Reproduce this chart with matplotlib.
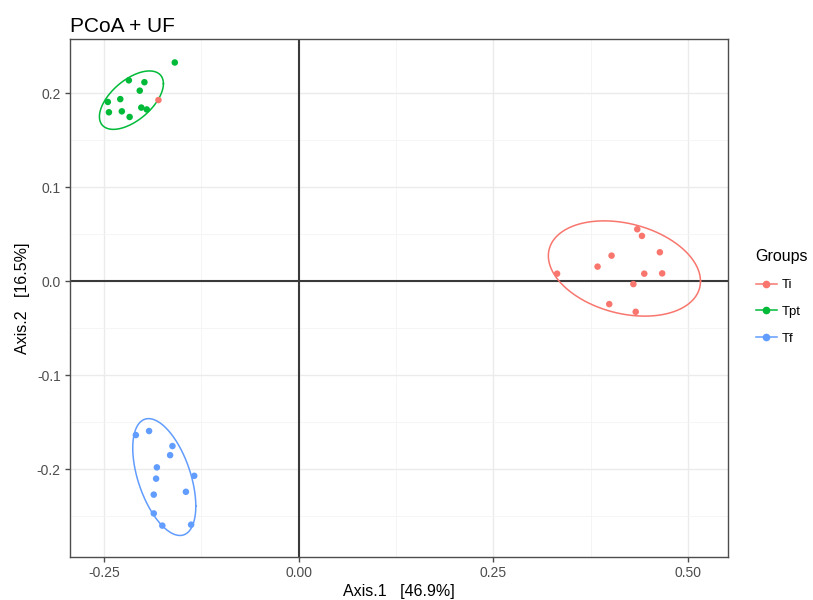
import numpy as np
import matplotlib
matplotlib.use("Agg")
import matplotlib.pyplot as plt
from matplotlib.lines import Line2D

plt.rcParams['font.family'] = ['Liberation Sans', 'DejaVu Sans']

groups = ['Ti', 'Tpt', 'Tf']
colors = ['#F8766D', '#00BA38', '#619CFF']

ti_x = [0.435, 0.441, 0.402, 0.464, 0.384, 0.332, 0.444, 0.467, 0.430, 0.399, 0.433, -0.180]
ti_y = [0.0555, 0.0484, 0.0274, 0.031, 0.0157, 0.0082, 0.0082, 0.0085, -0.0029, -0.0242, -0.0324, 0.193]

tpt_x = [-0.159, -0.218, -0.198, -0.204, -0.245, -0.229, -0.2436, -0.227, -0.217, -0.202, -0.195]
tpt_y = [0.233, 0.214, 0.212, 0.203, 0.191, 0.194, 0.180, 0.181, 0.175, 0.185, 0.183]

tf_x = [-0.209, -0.192, -0.162, -0.165, -0.182, -0.183, -0.134, -0.1447, -0.186, -0.186, -0.175, -0.138]
tf_y = [-0.1636, -0.1593, -0.1753, -0.185, -0.198, -0.210, -0.207, -0.224, -0.227, -0.247, -0.260, -0.259]

# confidence ellipses: centre, half extent in x / y, tilt phase
ell_cx = [0.4185, -0.2147, -0.1725]
ell_cy = [0.0137, 0.1929, -0.2083]
ell_rx = [0.0977, 0.0411, 0.0405]
ell_ry = [0.0507, 0.0311, 0.0622]
ell_phi = [-0.27, 0.60, -0.52]

xticks = [-0.25, 0.0, 0.25, 0.50]
xlabels = ['-0.25', '0.00', '0.25', '0.50']
yticks = [-0.2, -0.1, 0.0, 0.1, 0.2]
ylabels = ['-0.2', '-0.1', '0.0', '0.1', '0.2']

fig = plt.figure(figsize=(8.13, 6), dpi=100)
ax = fig.add_axes([0.0857, 0.0723, 0.8102, 0.8627])

ax.set_xlim(-0.294, 0.552)
ax.set_ylim(-0.293, 0.258)

ax.set_xticks([-0.125, 0.125, 0.375], minor=True)
ax.set_yticks([-0.25, -0.15, -0.05, 0.05, 0.15], minor=True)
ax.set_xticks(xticks)
ax.set_xticklabels(xlabels)
ax.set_yticks(yticks)
ax.set_yticklabels(ylabels)
ax.grid(which='major', color='#EBEBEB', linewidth=1.0, zorder=0)
ax.grid(which='minor', color='#F4F4F4', linewidth=0.6, zorder=0)
ax.set_axisbelow(True)

ax.axhline(0, color='#3a3a3a', linewidth=1.5, zorder=1)
ax.axvline(0, color='#3a3a3a', linewidth=1.5, zorder=1)

t = np.linspace(0, 2 * np.pi, 300)
data = [(ti_x, ti_y), (tpt_x, tpt_y), (tf_x, tf_y)]
for i, ((x, y), c) in enumerate(zip(data, colors)):
    ax.scatter(x, y, s=22, color=c, edgecolors='none', zorder=3)
    ex = ell_cx[i] + ell_rx[i] * np.cos(t)
    ey = ell_cy[i] + ell_ry[i] * np.sin(t + ell_phi[i])
    ax.plot(ex, ey, color=c, linewidth=1.1, zorder=2)

for s in ax.spines.values():
    s.set_color('#4d4d4d')
    s.set_linewidth(1.0)
ax.tick_params(which='major', length=3.5, width=1.0, color='#4d4d4d',
               labelsize=10, labelcolor='#4d4d4d', pad=3)
ax.tick_params(which='minor', length=0)

ax.set_xlabel('Axis.1   [46.9%]', fontsize=11.5, color='black', labelpad=3)
ax.set_ylabel('Axis.2   [16.5%]', fontsize=11.5, color='black', labelpad=5)
ax.set_title('PCoA + UF', loc='left', fontsize=15, pad=5)

handles = [Line2D([0], [0], color=c, marker='o', markersize=4.5, linewidth=1.1)
           for c in colors]
leg = fig.legend(handles, groups, title='Groups', loc='center left',
                 bbox_to_anchor=(0.923, 0.505), frameon=False, fontsize=9.5,
                 title_fontsize=11.5, handlelength=1.6, handletextpad=0.4,
                 labelspacing=1.1, borderaxespad=0)
leg._legend_box.align = 'left'

fig.savefig('out.png', dpi=100)
